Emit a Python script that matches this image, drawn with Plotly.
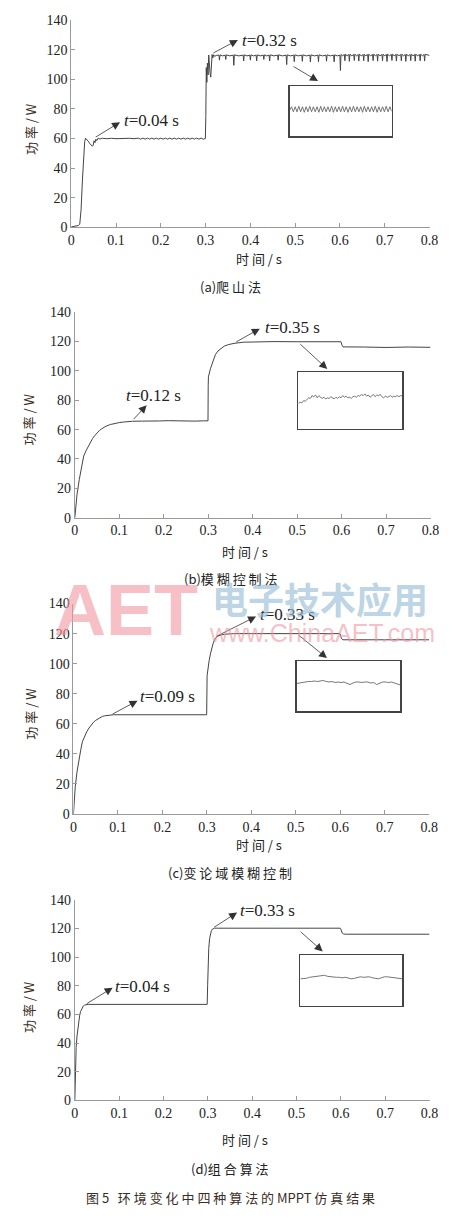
import plotly.graph_objects as go

# ---------------- DATA ----------------
x_ticks = [0, 0.1, 0.2, 0.3, 0.4, 0.5, 0.6, 0.7, 0.8]
x_tick_text = ["0", "0.1", "0.2", "0.3", "0.4", "0.5", "0.6", "0.7", "0.8"]
y_ticks = [0, 20, 40, 60, 80, 100, 120, 140]

# (a) hill climbing
a_time_start = [0.000, 0.008, 0.016, 0.019, 0.022, 0.025, 0.028, 0.030, 0.032, 0.035,
                0.038, 0.041, 0.044, 0.047, 0.049, 0.051, 0.053, 0.055, 0.057, 0.060,
                0.064, 0.070, 0.080, 0.090, 0.100, 0.110, 0.120, 0.130, 0.140, 0.150,
                0.155, 0.160, 0.165, 0.170, 0.175, 0.180, 0.185, 0.190, 0.195, 0.200,
                0.205, 0.210, 0.215, 0.220, 0.225, 0.230, 0.235, 0.240, 0.245, 0.250,
                0.255, 0.260, 0.265, 0.270, 0.275, 0.280, 0.285, 0.290, 0.295, 0.2995,
                0.3005, 0.3015, 0.3028, 0.3040, 0.3055, 0.3070, 0.3085, 0.3100, 0.3115, 0.3130,
                0.3145, 0.3160, 0.3180, 0.3200, 0.3250]
a_power_start = [0.3, 0.6, 1.2, 2.0, 12, 32, 50, 58, 60.2, 59.3,
                 58.2, 56.8, 55.6, 54.8, 55.5, 58.5, 57.2, 59.6, 58.6, 60.3,
                 59.7, 60.2, 59.9, 60.2, 59.9, 60.1, 59.8, 60.2, 59.9, 60.3,
                 59.6, 60.3, 59.6, 60.3, 59.6, 60.3, 59.6, 60.3, 59.6, 60.3,
                 59.6, 60.3, 59.6, 60.3, 59.6, 60.3, 59.6, 60.3, 59.6, 60.3,
                 59.6, 60.3, 59.6, 60.3, 59.6, 60.3, 59.6, 60.3, 59.6, 60.0,
                 75, 108, 98, 111, 103, 116.5, 107, 104, 101.5, 112,
                 116.8, 114.5, 116.7, 115.6, 116.3]
a_time_plateau = [0.3298, 0.3310, 0.3322, 0.3380, 0.3438, 0.3450, 0.3462, 0.3540,
                  0.3618, 0.3630, 0.3642, 0.3740, 0.3838, 0.3850, 0.3862, 0.3925,
                  0.3988, 0.4000, 0.4012, 0.4070, 0.4128, 0.4140, 0.4152, 0.4220,
                  0.4288, 0.4300, 0.4312, 0.4365, 0.4418, 0.4430, 0.4442, 0.4525,
                  0.4608, 0.4620, 0.4632, 0.4715, 0.4798, 0.4810, 0.4822, 0.4895,
                  0.4968, 0.4980, 0.4992, 0.5070, 0.5148, 0.5160, 0.5172, 0.5250,
                  0.5328, 0.5340, 0.5352, 0.5430, 0.5508, 0.5520, 0.5532, 0.5610,
                  0.5688, 0.5700, 0.5712, 0.5785, 0.5858, 0.5870, 0.5882, 0.5940,
                  0.5998, 0.6010, 0.6022, 0.6060, 0.6098, 0.6110, 0.6122, 0.6160,
                  0.6198, 0.6210, 0.6222, 0.6265, 0.6308, 0.6320, 0.6332, 0.6370,
                  0.6408, 0.6420, 0.6432, 0.6475, 0.6518, 0.6530, 0.6542, 0.6580,
                  0.6618, 0.6630, 0.6642, 0.6685, 0.6728, 0.6740, 0.6752, 0.6790,
                  0.6828, 0.6840, 0.6852, 0.6895, 0.6938, 0.6950, 0.6962, 0.7000,
                  0.7038, 0.7050, 0.7062, 0.7105, 0.7148, 0.7160, 0.7172, 0.7210,
                  0.7248, 0.7260, 0.7272, 0.7315, 0.7358, 0.7370, 0.7382, 0.7420,
                  0.7458, 0.7470, 0.7482, 0.7525, 0.7568, 0.7580, 0.7592, 0.7630,
                  0.7668, 0.7680, 0.7692, 0.7735, 0.7778, 0.7790, 0.7802, 0.7840,
                  0.7878, 0.7890, 0.7902, 0.8000]
a_power_plateau = [116.4, 113.0, 116.6, 115.9, 116.4, 113.5, 116.6, 115.9,
                   116.4, 109.5, 116.6, 115.9, 116.4, 112.5, 116.6, 115.9,
                   116.4, 113.0, 116.6, 115.9, 116.4, 112.5, 116.6, 115.9,
                   116.4, 113.5, 116.6, 115.9, 116.4, 112.5, 116.6, 115.9,
                   116.4, 113.0, 116.6, 115.9, 116.4, 110.0, 116.6, 115.9,
                   116.4, 112.0, 116.6, 115.9, 116.4, 112.2, 116.6, 115.9,
                   116.4, 111.8, 116.6, 115.9, 116.4, 112.0, 116.6, 115.9,
                   116.4, 112.3, 116.6, 115.9, 116.4, 111.9, 116.6, 115.9,
                   116.4, 106.0, 116.8, 116.0, 116.8, 112.6, 117.0, 116.0,
                   116.8, 112.2, 117.0, 116.0, 116.8, 112.8, 117.0, 116.0,
                   116.8, 112.4, 117.0, 116.0, 116.8, 112.6, 117.0, 116.0,
                   116.8, 112.0, 117.0, 116.0, 116.8, 112.7, 117.0, 116.0,
                   116.8, 112.3, 117.0, 116.0, 116.8, 112.6, 117.0, 116.0,
                   116.8, 112.1, 117.0, 116.0, 116.8, 112.8, 117.0, 116.0,
                   116.8, 112.4, 117.0, 116.0, 116.8, 112.6, 117.0, 116.0,
                   116.8, 112.2, 117.0, 116.0, 116.8, 112.7, 117.0, 116.0,
                   116.8, 112.3, 117.0, 116.0, 116.8, 112.6, 117.0, 116.0,
                   116.8, 112.4, 117.0, 116.2]
a_time = a_time_start + a_time_plateau
a_power = a_power_start + a_power_plateau

# (b) fuzzy control
b_time = [0, 0.002, 0.005, 0.010, 0.015, 0.020, 0.025, 0.030, 0.035, 0.040,
          0.045, 0.050, 0.055, 0.060, 0.065, 0.070, 0.080, 0.090, 0.100, 0.110,
          0.120, 0.130, 0.150, 0.170, 0.190, 0.210, 0.230, 0.250, 0.270, 0.290,
          0.2995, 0.3000, 0.3005, 0.305, 0.311, 0.316, 0.322, 0.330, 0.336, 0.345,
          0.358, 0.380, 0.420, 0.450, 0.500, 0.550, 0.5985, 0.6010, 0.6030, 0.650,
          0.700, 0.750, 0.800]
b_power = [0, 8, 16, 26, 35, 42, 45.5, 48.5, 51.5, 54,
           56, 57.8, 59.3, 60.5, 61.5, 62.3, 63.5, 64.3, 64.8, 65.2,
           65.5, 65.7, 65.8, 66.1, 65.9, 66.1, 65.9, 66.0, 65.8, 66.0,
           66.0, 90, 96, 101.5, 107, 111, 113.6, 115.8, 116.9, 117.9,
           118.8, 119.6, 119.9, 120.0, 119.9, 120.0, 119.9, 117.5, 116.4, 116.3,
           116.0, 116.3, 116.1]

# (c) variable universe fuzzy control
c_time = [0, 0.002, 0.004, 0.008, 0.012, 0.016, 0.020, 0.025, 0.030, 0.035,
          0.040, 0.045, 0.050, 0.055, 0.060, 0.065, 0.070, 0.075, 0.080, 0.085,
          0.090, 0.100, 0.150, 0.200, 0.250, 0.2995, 0.3005, 0.302, 0.305, 0.308,
          0.311, 0.314, 0.317, 0.320, 0.325, 0.330, 0.340, 0.350, 0.360, 0.400,
          0.450, 0.500, 0.550, 0.5995, 0.601, 0.603, 0.606, 0.650, 0.700, 0.750,
          0.800]
c_power = [0, 10, 18, 28, 36, 42, 48, 52, 54.8, 57.2,
           59.3, 61.0, 62.3, 63.3, 64.2, 64.9, 65.3, 65.6, 65.8, 65.9,
           66.0, 66.0, 66.0, 66.0, 66.0, 66.0, 92, 97, 102, 106.5,
           110.5, 113.5, 115.8, 117.2, 118.3, 119.0, 119.6, 119.8, 120.0, 120.0,
           120.0, 120.0, 120.0, 120.0, 118.0, 116.6, 115.9, 115.9, 115.9, 115.9,
           115.9]

# (d) combined algorithm
d_time = [0, 0.001, 0.002, 0.003, 0.005, 0.007, 0.009, 0.011, 0.013, 0.016,
          0.019, 0.022, 0.025, 0.030, 0.050, 0.100, 0.150, 0.200, 0.250, 0.2985,
          0.2995, 0.3005, 0.302, 0.304, 0.306, 0.308, 0.310, 0.312, 0.315, 0.320,
          0.350, 0.400, 0.450, 0.500, 0.550, 0.5985, 0.600, 0.601, 0.603, 0.606,
          0.610, 0.650, 0.700, 0.750, 0.800]
d_power = [0, 20, 30, 37, 45, 51, 56, 59.5, 62, 64.3,
           65.8, 66.5, 66.9, 67.0, 67.0, 67.0, 67.0, 67.0, 67.0, 67.0,
           80, 97, 106, 113, 116.5, 118.5, 119.5, 120.0, 120.2, 120.2,
           120.2, 120.2, 120.2, 120.2, 120.2, 120.2, 119.5, 118, 116.8, 116.2,
           116.0, 116.0, 116.0, 116.0, 116.0]

# zoomed-in insets (relative level inside the box, 0 = bottom, 1 = top)
inset_a = [0.52, 0.59, 0.49, 0.59, 0.49, 0.60, 0.49, 0.59, 0.48, 0.59,
           0.49, 0.60, 0.49, 0.59, 0.49, 0.59, 0.48, 0.60, 0.49, 0.59,
           0.49, 0.59, 0.49, 0.60, 0.48, 0.59, 0.49, 0.59, 0.49, 0.60,
           0.49, 0.59, 0.48, 0.59, 0.49, 0.60, 0.49, 0.59, 0.49, 0.59,
           0.48, 0.60, 0.49, 0.59, 0.49, 0.59, 0.49, 0.60, 0.48, 0.59,
           0.49, 0.59, 0.49, 0.60, 0.49, 0.59, 0.50]
inset_b = [0.45, 0.47, 0.46, 0.50, 0.49, 0.53, 0.55, 0.54, 0.59, 0.57,
           0.60, 0.55, 0.59, 0.56, 0.54, 0.56, 0.53, 0.55, 0.54, 0.57,
           0.55, 0.53, 0.56, 0.54, 0.57, 0.55, 0.59, 0.56, 0.58, 0.55,
           0.56, 0.54, 0.57, 0.58, 0.56, 0.59, 0.58, 0.61, 0.59, 0.62,
           0.58, 0.60, 0.56, 0.58, 0.61, 0.57, 0.60, 0.59, 0.61, 0.57,
           0.55, 0.58, 0.56, 0.57, 0.59, 0.56, 0.58, 0.57, 0.59, 0.57,
           0.59, 0.58]
inset_c = [0.55, 0.56, 0.58, 0.58, 0.59, 0.59, 0.60, 0.59, 0.60, 0.61,
           0.59, 0.58, 0.59, 0.57, 0.58, 0.57, 0.58, 0.56, 0.53, 0.56,
           0.58, 0.58, 0.57, 0.58, 0.58, 0.56, 0.57, 0.53, 0.56, 0.58,
           0.58, 0.57, 0.58, 0.56, 0.54, 0.52]
inset_d = [0.53, 0.53, 0.54, 0.56, 0.57, 0.58, 0.58, 0.59, 0.60, 0.58,
           0.57, 0.57, 0.56, 0.56, 0.55, 0.56, 0.54, 0.53, 0.54, 0.56,
           0.57, 0.56, 0.56, 0.57, 0.55, 0.54, 0.53, 0.55, 0.57, 0.57,
           0.56, 0.55, 0.55, 0.54, 0.53]

panel_captions = ["(a)爬 山 法", "(b)模 糊 控 制 法", "(c)变 论 域 模 糊 控 制", "(d)组 合 算 法"]
callout_labels = [["0.04", "0.32"], ["0.12", "0.35"], ["0.09", "0.33"], ["0.04", "0.33"]]
figure_caption = "图 5   环 境 变 化 中 四 种 算 法 的 MPPT 仿 真 结 果"
x_title = "时 间 / s"
y_title = "功 率 / W"

# ---------------- LAYOUT HELPERS ----------------
# the page body has an 8px margin, so the figure is 449x1205 placed at (8, 8)
PAGE_W, PAGE_H, M = 465, 1221, 8
W, H = PAGE_W - 2 * M, PAGE_H - 2 * M
def fx(p):
    return (p - M) / W
def fy(p):
    return 1 - (p - M) / H

SERIF = "Liberation Serif"
CJK = "Noto Sans CJK SC"
LINE = "#444444"
AXC = "#9a9a9a"

# main axes boxes in page pixels: (left, right, top, bottom)
main_px = [(69, 438, 13.3, 223), (72.7, 439, 309, 517), (71.3, 437.7, 604, 817), (72.7, 438, 904, 1107)]
inset_px = [(294, 399, 80, 131), (303, 410, 370, 427), (301, 408, 662, 713), (305, 410, 960, 1011)]
xtitle_px = [(262, 255), (248, 551), (262, 848), (248, 1147)]
ytitle_px = [(27, 123), (25, 418), (27, 715), (25, 1013)]
caption_y = [283, 579, 876, 1176]

# callouts (data coords): arrow tail -> head, text anchor
callouts = [
    [((0.0513, 60.4), (0.109, 71.1), (0.113, 72.2)),
     ((0.314, 117.3), (0.372, 126.7), (0.377, 126.5)),
     ((0.493, 109.3), (0.551, 98.9), None)],
    [((0.129, 66.1), (0.1616, 76.6), (0.1095, 83.5)),
     ((0.3596, 119.2), (0.416, 128.8), (0.4225, 129.5)),
     ((0.5037, 119.2), (0.5678, 101.3), None)],
    [((0.0844, 65.9), (0.1441, 75.4), (0.1455, 78.0)),
     ((0.3174, 117.6), (0.4106, 131.4), (0.4145, 132.5)),
     ((0.503, 119.8), (0.570, 103.7), None)],
    [((0.0233, 66.8), (0.0853, 78.7), (0.087, 79.6)),
     ((0.311, 120.2), (0.366, 131.2), (0.369, 132.6)),
     ((0.506, 118.6), (0.559, 104.0), None)],
]

fig = go.Figure()
series = [(a_time, a_power), (b_time, b_power), (c_time, c_power), (d_time, d_power)]
insets = [inset_a, inset_b, inset_c, inset_d]

layout = dict(
    width=W, height=H, margin=dict(l=0, r=0, t=0, b=0, pad=0),
    paper_bgcolor="white", plot_bgcolor="rgba(0,0,0,0)",
    showlegend=False,
)
annotations = []

for i in range(4):
    n = i + 1
    xs = "" if n == 1 else str(n)
    xa, ya = "x" + xs, "y" + xs
    t, p = series[i]
    fig.add_trace(go.Scatter(x=t, y=p, mode="lines", xaxis=xa, yaxis=ya,
                             line=dict(color=LINE, width=1), hoverinfo="skip"))
    l, r, tp, bt = main_px[i]
    layout["xaxis" + xs] = dict(
        domain=[fx(l), fx(r)], range=[0, 0.8], anchor=ya,
        tickvals=x_ticks, ticktext=x_tick_text, ticks="inside", ticklen=4,
        tickcolor=AXC, showline=True, linecolor=AXC, linewidth=1,
        showgrid=False, zeroline=False,
        tickfont=dict(family=SERIF, size=14, color="#222"),
    )
    layout["yaxis" + xs] = dict(
        domain=[fy(bt), fy(tp)], range=[0, 140], anchor=xa,
        tickvals=y_ticks, ticks="inside", ticklen=4,
        tickcolor=AXC, showline=True, linecolor=AXC, linewidth=1,
        showgrid=False, zeroline=False,
        tickfont=dict(family=SERIF, size=14, color="#222"),
    )
    # inset
    k = i + 5
    ix, iy = "x" + str(k), "y" + str(k)
    vals = insets[i]
    fig.add_trace(go.Scatter(x=list(range(len(vals))), y=vals, mode="lines",
                             xaxis=ix, yaxis=iy, line=dict(color="#666", width=0.9),
                             hoverinfo="skip"))
    il, ir, it, ib = inset_px[i]
    layout["xaxis" + str(k)] = dict(
        domain=[fx(il), fx(ir)], range=[0, len(vals) - 1], anchor=iy,
        showline=True, mirror=True, linecolor="#444", linewidth=1.3,
        showticklabels=False, ticks="", showgrid=False, zeroline=False)
    layout["yaxis" + str(k)] = dict(
        domain=[fy(ib), fy(it)], range=[0, 1], anchor=ix,
        showline=True, mirror=True, linecolor="#444", linewidth=1.3,
        showticklabels=False, ticks="", showgrid=False, zeroline=False)

    # callouts
    for j, (tail, head, txt) in enumerate(callouts[i]):
        annotations.append(dict(
            xref=xa, yref=ya, axref=xa, ayref=ya,
            x=head[0], y=head[1], ax=tail[0], ay=tail[1],
            text="", showarrow=True, arrowhead=2, arrowsize=2.0,
            arrowwidth=0.8, arrowcolor="#333", standoff=0))
        if txt is not None:
            annotations.append(dict(
                xref=xa, yref=ya, x=txt[0], y=txt[1], xanchor="left", yanchor="middle",
                text="<i>t</i>=" + callout_labels[i][j] + " s", showarrow=False,
                font=dict(family=SERIF, size=17, color="#222")))
    # axis titles
    xx, xy = xtitle_px[i]
    annotations.append(dict(xref="paper", yref="paper", x=fx(xx), y=fy(xy),
                            xanchor="center", yanchor="middle", text=x_title, showarrow=False,
                            font=dict(family=CJK, size=13, color="#222")))
    yx, yy = ytitle_px[i]
    annotations.append(dict(xref="paper", yref="paper", x=fx(yx), y=fy(yy),
                            xanchor="center", yanchor="middle", text=y_title, showarrow=False,
                            textangle=-90, font=dict(family=CJK, size=13, color="#3a2d25")))
    annotations.append(dict(xref="paper", yref="paper", x=fx(233), y=fy(caption_y[i]),
                            xanchor="center", yanchor="middle", text=panel_captions[i],
                            showarrow=False, font=dict(family=CJK, size=13, color="#222")))

annotations.append(dict(xref="paper", yref="paper", x=fx(233), y=fy(1205),
                        xanchor="center", yanchor="middle", text=figure_caption,
                        showarrow=False, font=dict(family=CJK, size=13, color="#3a2d25")))

# watermark
annotations.append(dict(xref="paper", yref="paper", x=fx(125), y=fy(610),
                        xanchor="center", yanchor="middle", text="<b>AET</b>",
                        showarrow=False,
                        font=dict(family="Liberation Sans", size=72,
                                  color="rgba(240,150,160,0.6)")))
annotations.append(dict(xref="paper", yref="paper", x=fx(325), y=fy(598),
                        xanchor="center", yanchor="middle", text="<b>电子技术应用</b>",
                        showarrow=False,
                        font=dict(family=CJK, size=36, color="rgba(150,188,212,0.65)")))
annotations.append(dict(xref="paper", yref="paper", x=fx(327), y=fy(634),
                        xanchor="center", yanchor="middle", text="www.ChinaAET.com",
                        showarrow=False,
                        font=dict(family="Liberation Sans", size=25,
                                  color="rgba(240,150,160,0.6)")))

layout["annotations"] = annotations
fig.update_layout(**layout)
fig.write_html("out.html", config={"displayModeBar": False, "staticPlot": True})
